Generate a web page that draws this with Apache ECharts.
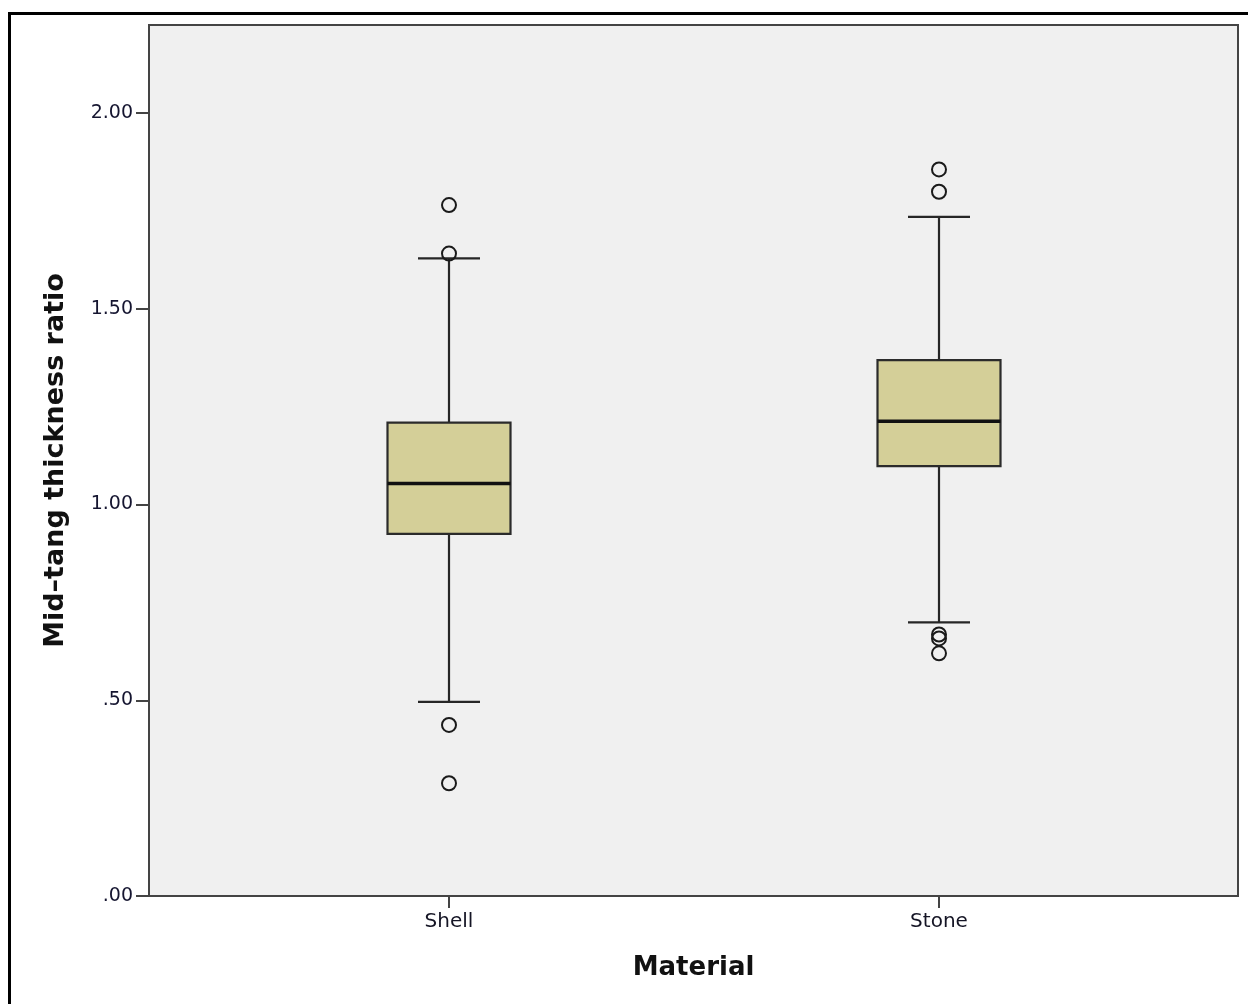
<!DOCTYPE html>
<html>
<head>
<meta charset="utf-8">
<script src="https://cdn.jsdelivr.net/npm/echarts@6/dist/echarts.min.js"></script>
<style>
html,body{margin:0;padding:0;background:#fff;}
#chart{width:1248px;height:1004px;}
</style>
</head>
<body>
<div id="chart"></div>
<script>
// ---- data ----
var categories = ['Shell', 'Stone'];
// [min whisker, Q1, median, Q3, max whisker]
var shellBox = [0.496, 0.925, 1.054, 1.209, 1.629];
var stoneBox = [0.699, 1.098, 1.213, 1.369, 1.735];
var shellOutliers = [1.765, 1.641, 0.437, 0.288];
var stoneOutliers = [1.856, 1.799, 0.668, 0.658, 0.620];
var yTicks = [0, 0.5, 1.0, 1.5, 2.0];
var yMax = 2.225;

var boxData = [
  [0].concat(shellBox),
  [1].concat(stoneBox)
];
var outlierData = [];
shellOutliers.forEach(function (v) { outlierData.push([0, v]); });
stoneOutliers.forEach(function (v) { outlierData.push([1, v]); });

function fmt(v) {
  var s = Number(v).toFixed(2);
  if (s.charAt(0) === '0') s = s.slice(1);
  return s;
}

var BOX_W = 123, CAP_W = 62;

function renderBox(params, api) {
  var x = api.value(0);
  var pMin = api.coord([x, api.value(1)]);
  var pQ1 = api.coord([x, api.value(2)]);
  var pMed = api.coord([x, api.value(3)]);
  var pQ3 = api.coord([x, api.value(4)]);
  var pMax = api.coord([x, api.value(5)]);
  var cx = pMed[0];
  var lineStyle = { stroke: '#262626', lineWidth: 2.2, fill: null };
  return {
    type: 'group',
    children: [
      { type: 'line', shape: { x1: cx, y1: pQ3[1], x2: cx, y2: pMax[1] }, style: lineStyle },
      { type: 'line', shape: { x1: cx, y1: pQ1[1], x2: cx, y2: pMin[1] }, style: lineStyle },
      { type: 'line', shape: { x1: cx - CAP_W / 2, y1: pMax[1], x2: cx + CAP_W / 2, y2: pMax[1] }, style: lineStyle },
      { type: 'line', shape: { x1: cx - CAP_W / 2, y1: pMin[1], x2: cx + CAP_W / 2, y2: pMin[1] }, style: lineStyle },
      { type: 'rect', shape: { x: cx - BOX_W / 2, y: pQ3[1], width: BOX_W, height: pQ1[1] - pQ3[1] },
        style: { fill: '#d4cf98', stroke: '#2b2b2b', lineWidth: 2.2 } },
      { type: 'line', shape: { x1: cx - BOX_W / 2, y1: pMed[1], x2: cx + BOX_W / 2, y2: pMed[1] },
        style: { stroke: '#111', lineWidth: 3.5 } }
    ]
  };
}

var chart = echarts.init(document.getElementById('chart'), null, { renderer: 'canvas' });
var FONT = 'DejaVu Sans';
var option = {
  animation: false,
  backgroundColor: '#ffffff',
  graphic: [
    { type: 'rect', silent: true, z: 100,
      shape: { x: 9.5, y: 13.5, width: 1400, height: 1200 },
      style: { fill: null, stroke: '#000', lineWidth: 3 } }
  ],
  grid: [
    { left: 149, top: 25, width: 1089, height: 871, show: true,
      backgroundColor: '#f0f0f0', borderColor: '#444', borderWidth: 2 },
    { left: 204, top: 25, width: 980, height: 871 }
  ],
  xAxis: [
    { gridIndex: 0, type: 'value', min: 0, max: 1,
      axisLine: { show: true, lineStyle: { color: '#444', width: 2 } },
      axisTick: { show: false }, axisLabel: { show: false }, splitLine: { show: false },
      name: 'Material', nameLocation: 'middle', nameGap: 59,
      nameTextStyle: { fontFamily: FONT, fontWeight: 'bold', fontSize: 26, color: '#111' } },
    { gridIndex: 1, type: 'category', data: categories, boundaryGap: true,
      axisLine: { show: true, lineStyle: { color: 'rgba(0,0,0,0)', width: 0 } },
      axisTick: { show: true, alignWithLabel: true, length: 12, lineStyle: { color: '#444', width: 2 } },
      axisLabel: { fontFamily: FONT, fontSize: 20, color: '#151525', margin: 16 },
      splitLine: { show: false } }
  ],
  yAxis: [
    { gridIndex: 0, type: 'value', min: 0, max: yMax,
      axisLine: { show: true, lineStyle: { color: '#444', width: 2 } },
      axisTick: { show: true, length: 13, customValues: yTicks, lineStyle: { color: '#444', width: 2 } },
      axisLabel: { customValues: yTicks, formatter: fmt, fontFamily: FONT, fontSize: 19, color: '#151530', margin: 16 },
      splitLine: { show: false },
      name: 'Mid\u2013tang thickness ratio', nameLocation: 'middle', nameGap: 80, nameRotate: 90,
      nameTextStyle: { fontFamily: FONT, fontWeight: 'bold', fontSize: 27, color: '#111' } },
    { gridIndex: 1, type: 'value', min: 0, max: yMax, show: false }
  ],
  series: [
    { type: 'custom', xAxisIndex: 1, yAxisIndex: 1, renderItem: renderBox, data: boxData,
      encode: { x: 0, y: [1, 2, 3, 4, 5] }, z: 2 },
    { type: 'scatter', xAxisIndex: 1, yAxisIndex: 1, data: outlierData, symbol: 'circle', symbolSize: 14,
      itemStyle: { color: 'rgba(0,0,0,0)', borderColor: '#1a1a1a', borderWidth: 2, opacity: 1 }, z: 3 }
  ]
};
chart.setOption(option);
</script>
</body>
</html>
